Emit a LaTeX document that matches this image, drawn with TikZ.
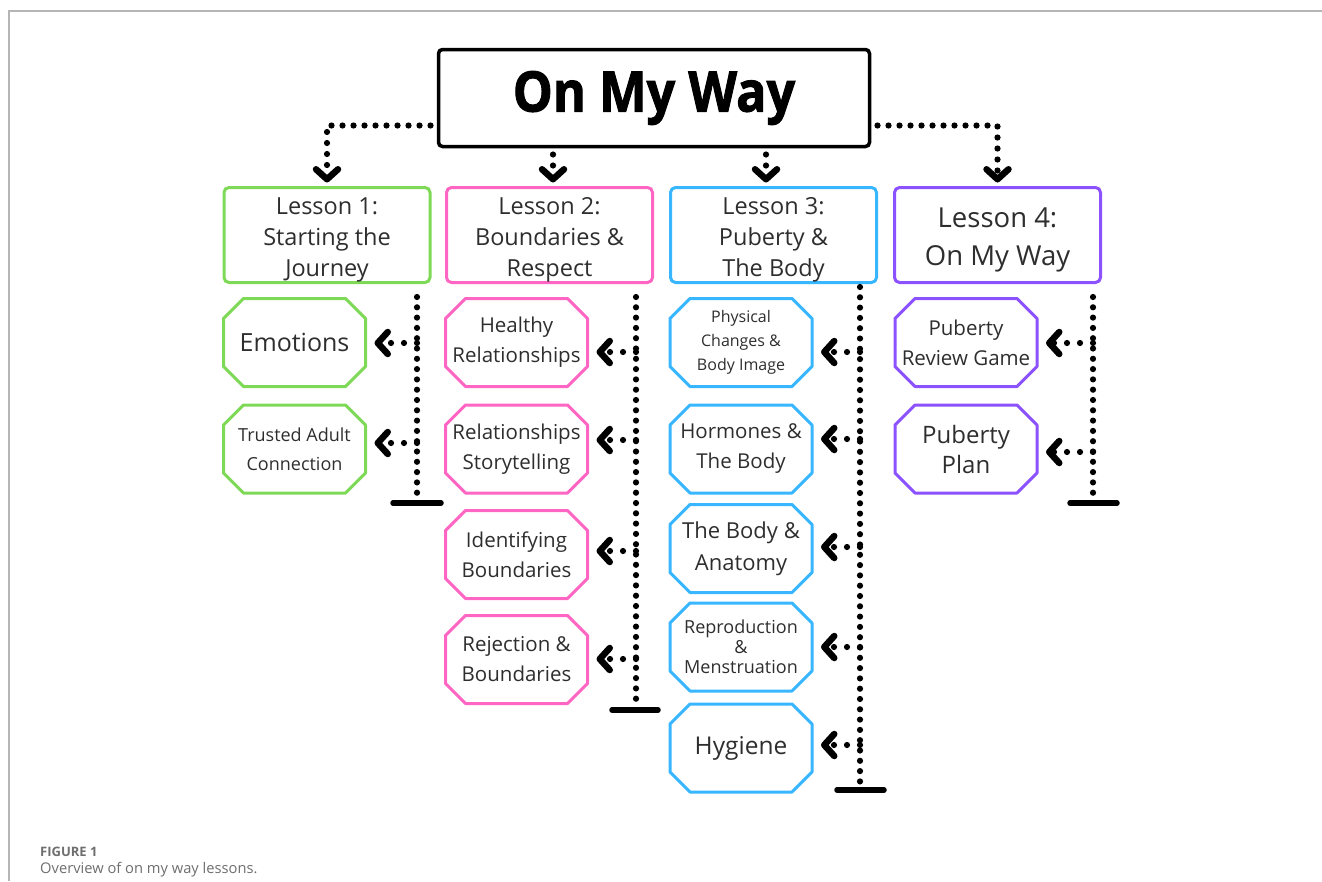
\documentclass[tikz,border=0pt]{standalone}
\usepackage{fontspec}
\setmainfont{Open Sans}
\newfontfamily\heavy{Open Sans}[BoldFeatures={FakeBold=1.6,FakeStretch=0.9}]
\usetikzlibrary{arrows.meta}
\definecolor{cgreen}{HTML}{7ED957}
\definecolor{cpink}{HTML}{FF66C4}
\definecolor{cblue}{HTML}{38B6FF}
\definecolor{cpurple}{HTML}{8C52FF}
\definecolor{txt}{HTML}{2E2E2E}
\definecolor{frame}{HTML}{B5B5B5}
\definecolor{capgray}{HTML}{6E6E6E}
\newcommand\fs[2]{\fontsize{#1}{#2}\selectfont}
\newcommand\octo[2]{\draw[#2,line width=3pt,line join=round]
  ([xshift=20pt]#1.north west) -- ([xshift=-20pt]#1.north east) --
  ([yshift=-20pt]#1.north east) -- ([yshift=20pt]#1.south east) --
  ([xshift=-20pt]#1.south east) -- ([xshift=20pt]#1.south west) --
  ([yshift=20pt]#1.south west) -- ([yshift=-20pt]#1.north west) -- cycle;}
\tikzset{
  lesson/.style={draw=#1,line width=3pt,rounded corners=5pt,minimum width=206pt,
    minimum height=95pt,outer sep=0pt,inner sep=0pt},
  ltext/.style={align=center,text=txt,inner sep=0pt,yshift=-4.5pt},
  oct/.style={minimum width=142pt,minimum height=88pt,align=center,text=txt,
    outer sep=0pt,inner sep=0pt},
  vdots/.style={line width=6.2pt,line cap=round,dash pattern=on 0pt off 10.3pt},
  chev/.tip={Straight Barb[length=10pt,width=22pt,line width=6.5pt,round]},
  conn/.style={line width=6.2pt,line cap=round,dash pattern=on 0pt off 11pt,-chev},
  hconn/.style={line width=6.2pt,line cap=round,dash pattern=on 0pt off 13pt,
    shorten >=9pt,-chev},
  tbar/.style={line width=5.5pt,line cap=round},
}
\begin{document}
\begin{tikzpicture}[x=1pt,y=-1pt]
\useasboundingbox (0,0) rectangle (1322,881);
% page frame
\coordinate (f1) at (9,881);
\coordinate (f2) at (9,11);
\coordinate (f3) at (1322,11);
\draw[frame,line width=2pt] (f1) -- (f2) -- (f3);

% title
\node[draw,line width=3.5pt,rounded corners=4pt,minimum width=431pt,minimum height=97pt,
  outer sep=0pt,font=\heavy\bfseries\fs{56}{64}] (t) at (654,98) {On My Way};

% lessons
\node[lesson=cgreen] (l1) at (327,235) {};
\node[lesson=cpink] (l2) at (549.5,235) {};
\node[lesson=cblue] (l3) at (773.5,235) {};
\node[lesson=cpurple] (l4) at (997.5,235) {};
\node[ltext,font=\fs{23.5}{31}] (l1t) at (l1.center) {Lesson 1:\\Starting the\\Journey};
\node[ltext,font=\fs{23.5}{31}] (l2t) at (l2.center) {Lesson 2:\\Boundaries \&\\Respect};
\node[ltext,font=\fs{23.5}{31}] (l3t) at (l3.center) {Lesson 3:\\Puberty \&\\The Body};
\node[ltext,font=\fs{27.5}{38}] (l4t) at (l4.center) {Lesson 4:\\On My Way};

% connectors from title
\draw[conn,shorten <=8pt,shorten >=5pt] ([yshift=21pt]t.south west) -| (l1.north);
\draw[conn,shorten <=8pt,shorten >=5pt] ([yshift=21pt]t.south east) -| (l4.north);
\draw[conn,shorten <=8pt,shorten >=5pt] ([xshift=3.5pt]l2.north |- t.south) -- ([xshift=3.5pt]l2.north);
\draw[conn,shorten <=8pt,shorten >=5pt] ([xshift=-7.5pt]l3.north |- t.south) -- ([xshift=-7.5pt]l3.north);

% lesson 1 column
\node[oct,font=\fs{25}{30}] (e1) at (294.5,342.5) {Emotions};
\node[oct,font=\fs{18}{29}] (e2) at (294.5,449) {Trusted Adult\\Connection};
\octo{e1}{cgreen}\octo{e2}{cgreen}
\coordinate (v1t) at (417,297);
\coordinate (v1b) at (417,494);
\coordinate (b1l) at (393,503);
\coordinate (b1r) at (441,503);
\draw[vdots] (v1t) -- (v1b);
\draw[tbar] (b1l) -- (b1r);
\coordinate (a11) at (417,343);
\coordinate (a12) at (417,443);
\draw[hconn] (a11) -- (a11 -| e1.east);
\draw[hconn] (a12) -- (a12 -| e2.east);

% lesson 2 column
\node[oct,font=\fs{20.5}{30}] (p1) at (516.5,342.5) {Healthy\\Relationships};
\node[oct,font=\fs{20.5}{30}] (p2) at (516.5,449) {Relationships\\Storytelling};
\node[oct,font=\fs{20.5}{30}] (p3) at (516.5,554.5) {Identifying\\Boundaries};
\node[oct,font=\fs{20.5}{30}] (p4) at (516.5,659.5) {Rejection \&\\Boundaries};
\octo{p1}{cpink}\octo{p2}{cpink}\octo{p3}{cpink}\octo{p4}{cpink}
\coordinate (v2t) at (636,297);
\coordinate (v2b) at (636,700);
\coordinate (b2l) at (612,710);
\coordinate (b2r) at (658,710);
\draw[vdots] (v2t) -- (v2b);
\draw[tbar] (b2l) -- (b2r);
\coordinate (a21) at (636,352);
\coordinate (a22) at (636,440);
\coordinate (a23) at (636,551);
\coordinate (a24) at (636,659);
\draw[hconn] (a21) -- (a21 -| p1.east);
\draw[hconn] (a22) -- (a22 -| p2.east);
\draw[hconn] (a23) -- (a23 -| p3.east);
\draw[hconn] (a24) -- (a24 -| p4.east);

% lesson 3 column
\node[oct,font=\fs{16}{24}] (q1) at (741,342.5) {Physical\\Changes \&\\Body Image};
\node[oct,font=\fs{20.5}{30}] (q2) at (741,449) {Hormones \&\\The Body};
\node[oct,font=\fs{22}{32}] (q3) at (741,548.5) {The Body \&\\Anatomy};
\node[oct,font=\fs{18}{20}] (q4) at (741,647) {Reproduction\\\&\\Menstruation};
\node[oct,font=\fs{24.5}{30}] (q5) at (741,748) {Hygiene};
\octo{q1}{cblue}\octo{q2}{cblue}\octo{q3}{cblue}\octo{q4}{cblue}\octo{q5}{cblue}
\coordinate (v3t) at (860,287);
\coordinate (v3b) at (860,782);
\coordinate (b3l) at (837,790);
\coordinate (b3r) at (884,790);
\draw[vdots] (v3t) -- (v3b);
\draw[tbar] (b3l) -- (b3r);
\coordinate (a31) at (860,352);
\coordinate (a32) at (860,439);
\coordinate (a33) at (860,547);
\coordinate (a34) at (860,647);
\coordinate (a35) at (860,745);
\draw[hconn] (a31) -- (a31 -| q1.east);
\draw[hconn] (a32) -- (a32 -| q2.east);
\draw[hconn] (a33) -- (a33 -| q3.east);
\draw[hconn] (a34) -- (a34 -| q4.east);
\draw[hconn] (a35) -- (a35 -| q5.east);

% lesson 4 column
\node[oct,font=\fs{20.5}{30}] (r1) at (966,342.5) {Puberty\\Review Game};
\node[oct,font=\fs{24}{30}] (r2) at (966,449) {Puberty\\Plan};
\octo{r1}{cpurple}\octo{r2}{cpurple}
\coordinate (v4t) at (1093,297);
\coordinate (v4b) at (1093,494);
\coordinate (b4l) at (1070,503);
\coordinate (b4r) at (1117,503);
\draw[vdots] (v4t) -- (v4b);
\draw[tbar] (b4l) -- (b4r);
\coordinate (a41) at (1093,343);
\coordinate (a42) at (1093,452);
\draw[hconn] (a41) -- (a41 -| r1.east);
\draw[hconn] (a42) -- (a42 -| r2.east);

% caption
\node[anchor=base west,inner sep=0pt,text=capgray,font=\bfseries\fs{13}{16}] (cap1) at (40,856) {FIGURE 1};
\node[anchor=base west,inner sep=0pt,text=capgray,font=\fs{14.7}{18}] (cap2) at (40,873) {Overview of on my way lessons.};
\end{tikzpicture}
\end{document}
